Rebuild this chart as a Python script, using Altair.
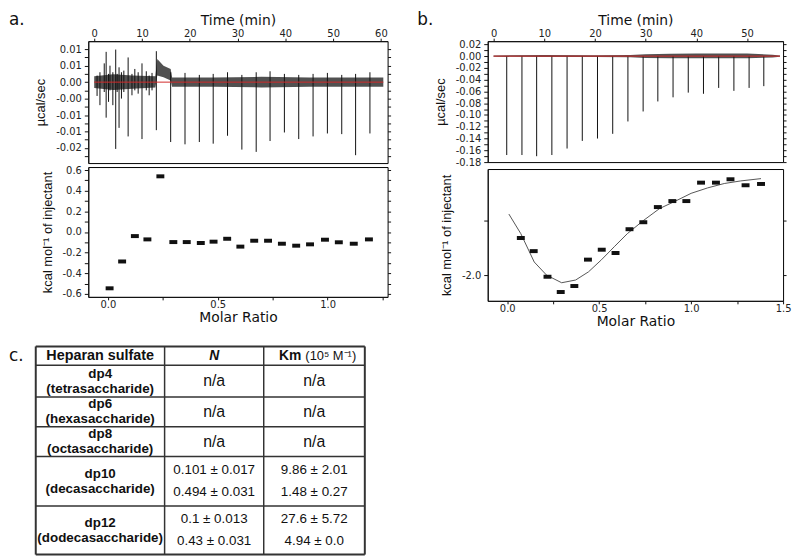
import altair as alt
import pandas as pd

# ===================== DATA =====================
# ---- (a) raw thermogram (µcal/sec vs min) ----
a_inj_time = [2.5, 4.5, 7.1, 10.0, 13.0, 16.0, 19.0, 22.0, 24.9, 27.9, 30.9, 33.9, 36.8, 39.8, 42.8, 45.8, 48.8, 51.8, 54.7, 57.7]
a_inj_low = [-0.0108, -0.0203, -0.0165, -0.0173, -0.0146, -0.0182, -0.0189, -0.0182, -0.0187, -0.0163,
             -0.0205, -0.0212, -0.0179, -0.0153, -0.0173, -0.0165, -0.0156, -0.0158, -0.0222, -0.0156]
a_inj_high = [0.0092, 0.0099, 0.0075, 0.0057, 0.0094, 0.0030, 0.0028, 0.0022, 0.0025, 0.0030,
              0.0022, 0.0030, 0.0033, 0.0025, 0.0022, 0.0025, 0.0028, 0.0022, 0.0025, 0.0030]
a_spike_time = [0.6, 1.2, 2.1, 3.0, 3.3, 3.9, 4.8, 5.2, 5.7, 6.2, 7.9, 8.5, 9.2, 10.9, 11.5, 12.1]
a_spike_low = [-0.0042, -0.0070, -0.0030, -0.0060, -0.0025, -0.0070, -0.0030, -0.0139, -0.0050, -0.0030,
               -0.0040, -0.0025, -0.0035, -0.0025, -0.0040, -0.0025]
a_spike_high = [0.0020, 0.0030, 0.0057, 0.0025, 0.0050, 0.0030, 0.0025, 0.0045, 0.0030, 0.0035,
                0.0025, 0.0040, 0.0030, 0.0033, 0.0020, 0.0028]
a_band_time = [0.0, 4.0, 8.0, 12.8, 13.2, 14.5, 16.0, 16.3, 25.0, 35.0, 45.0, 55.0, 60.5]
a_band_low = [-0.0018, -0.0024, -0.0020, -0.0016, 0.0020, 0.0015, 0.0005, -0.0014, -0.0014, -0.0016, -0.0014, -0.0014, -0.0014]
a_band_high = [0.0018, 0.0024, 0.0020, 0.0018, 0.0070, 0.0050, 0.0040, 0.0014, 0.0014, 0.0016, 0.0014, 0.0014, 0.0014]
a_baseline = [0.0, 60.5]

# ---- (a) integrated heats ----
a_ratio = [0.008, 0.065, 0.123, 0.180, 0.239, 0.298, 0.359, 0.423, 0.481, 0.543,
           0.603, 0.666, 0.729, 0.792, 0.857, 0.920, 0.988, 1.051, 1.119, 1.188]
a_heat = [-0.546, -0.286, -0.040, -0.072, 0.539, -0.098, -0.098, -0.107, -0.094, -0.066,
          -0.142, -0.085, -0.085, -0.114, -0.133, -0.120, -0.075, -0.100, -0.114, -0.072]

# ---- (b) raw thermogram ----
b_inj_time = [2.6, 5.6, 8.5, 11.5, 14.5, 17.5, 20.5, 23.5, 26.5, 29.5, 32.4, 35.4, 38.4, 41.4, 44.4, 47.4, 50.4, 53.3]
b_inj_low = [-0.168, -0.168, -0.170, -0.168, -0.157, -0.144, -0.140, -0.132, -0.111,
             -0.094, -0.077, -0.070, -0.062, -0.064, -0.054, -0.059, -0.054, -0.051]
b_band_time = [0.0, 10.0, 20.0, 27.0, 30.0, 35.0, 40.0, 45.0, 50.0, 55.0, 56.5]
b_band_low = [-0.0012, -0.0015, -0.0015, -0.0020, -0.0030, -0.0035, -0.0035, -0.0035, -0.0035, -0.0025, -0.0012]
b_band_high = [0.0012, 0.0020, 0.0015, 0.0020, 0.0030, 0.0040, 0.0045, 0.0045, 0.0045, 0.0025, 0.0012]
b_baseline = [0.0, 56.5]

# ---- (b) integrated heats + fit ----
b_ratio = [0.074, 0.144, 0.219, 0.291, 0.365, 0.439, 0.514, 0.589, 0.665,
           0.740, 0.819, 0.898, 0.974, 1.054, 1.135, 1.214, 1.296, 1.380]
b_heat = [-1.660, -1.780, -2.015, -2.155, -2.100, -1.858, -1.767, -1.797, -1.579,
          -1.515, -1.376, -1.321, -1.321, -1.152, -1.152, -1.121, -1.176, -1.164]
b_fit_ratio = [0.009, 0.074, 0.147, 0.214, 0.296, 0.372, 0.442, 0.512, 0.582,
               0.653, 0.740, 0.828, 0.916, 1.000, 1.090, 1.180, 1.270, 1.380]
b_fit_heat = [-1.44, -1.62, -1.88, -2.00, -2.07, -2.045, -1.97, -1.86, -1.74,
              -1.62, -1.50, -1.39, -1.32, -1.25, -1.20, -1.16, -1.136, -1.115]

# ---- axis ticks / labels ----
a_time_ticks = [0, 5, 10, 15, 20, 25, 30, 35, 40, 45, 50, 55, 60]
a_time_labels = ["0", "", "10", "", "20", "", "30", "", "40", "", "50", "", "60"]
b_time_ticks = [0, 5, 10, 15, 20, 25, 30, 35, 40, 45, 50, 55]
b_time_labels = ["0", "", "10", "", "20", "", "30", "", "40", "", "50", ""]
a_raw_ticks = [-0.0225, -0.02, -0.0175, -0.015, -0.0125, -0.01, -0.0075, -0.005, -0.0025, 0.0, 0.0025, 0.005, 0.0075, 0.01]
a_raw_labels = ["", "-0.02", "", "-0.01", "", "-0.01", "", "-0.00", "", "0.00", "", "0.01", "", "0.01"]
b_raw_ticks = [0.02, 0.01, 0.0, -0.01, -0.02, -0.03, -0.04, -0.05, -0.06, -0.07, -0.08, -0.09,
               -0.10, -0.11, -0.12, -0.13, -0.14, -0.15, -0.16, -0.17, -0.18]
b_raw_labels = ["0.02", "", "0.00", "", "-0.02", "", "-0.04", "", "-0.06", "", "-0.08", "",
                "-0.10", "", "-0.12", "", "-0.14", "", "-0.16", "", "-0.18"]
a_heat_ticks = [-0.6, -0.5, -0.4, -0.3, -0.2, -0.1, 0.0, 0.1, 0.2, 0.3, 0.4, 0.5, 0.6]
a_heat_labels = ["-0.6", "", "-0.4", "", "-0.2", "", "0.0", "", "0.2", "", "0.4", "", "0.6"]
b_heat_ticks = [-2.0, -1.5]
b_heat_labels = ["-2.0", ""]
a_ratio_ticks = [0.0, 0.25, 0.5, 0.75, 1.0, 1.25]
a_ratio_labels = ["0.0", "", "0.5", "", "1.0", ""]
b_ratio_ticks = [0.0, 0.25, 0.5, 0.75, 1.0, 1.25, 1.5]
b_ratio_labels = ["0.0", "", "0.5", "", "1.0", "", "1.5"]

# ---- (c) table ----
table_header = ["Heparan sulfate", "N", "Km", "(10\u2075 M\u207b\u00b9)"]
row_names = ["dp4", "dp6", "dp8", "dp10", "dp12"]
row_subnames = ["(tetrasaccharide)", "(hexasaccharide)", "(octasaccharide)", "(decasaccharide)", "(dodecasaccharide)"]
n_values = [["n/a"], ["n/a"], ["n/a"], ["0.101 \u00b1 0.017", "0.494 \u00b1 0.031"], ["0.1 \u00b1 0.013", "0.43 \u00b1 0.031"]]
km_values = [["n/a"], ["n/a"], ["n/a"], ["9.86 \u00b1 2.01", "1.48 \u00b1 0.27"], ["27.6 \u00b1 5.72", "4.94 \u00b1 0.0"]]

# ===================== STYLE / LAYOUT =====================
FONT = "DejaVu Sans"
NARROW = "Liberation Sans Narrow, Liberation Sans, sans-serif"
TFONT = "Liberation Sans, Arial, sans-serif"
INK = "#111111"


def label_expr(vals, labels):
    expr = "''"
    for v, l in zip(reversed(vals), reversed(labels)):
        expr = f"abs(datum.value - ({v})) < 1e-7 ? '{l}' : ({expr})"
    return expr


def x_axis(orient, title, vals, labels):
    return alt.Axis(orient=orient, title=title, values=vals, labelExpr=label_expr(vals, labels),
                    titleFont=FONT, titleFontSize=14, titleFontWeight="normal", titleColor=INK,
                    titlePadding=1, labelPadding=0, tickSize=3, labelFlush=False, labelOverlap=False)


def y_axis(title, vals, labels):
    return alt.Axis(orient="left", title=title, values=vals, labelExpr=label_expr(vals, labels),
                    titleFont=NARROW, titleFontSize=13, titleFontWeight="normal", titleColor=INK,
                    titlePadding=8, labelPadding=3, tickSize=4, labelFlush=False, labelOverlap=False)


def mirror_axis(vals):
    return alt.Axis(orient="right", title=None, values=vals, labels=False, tickSize=3, domain=False)


def raw_panel(inj, band, base, tdom, vdom, tticks, tlabels, vticks, vlabels, w, h, letter, lx):
    xs = alt.Scale(domain=tdom, nice=False, zero=False)
    ys = alt.Scale(domain=vdom, nice=False, zero=False)
    band_l = alt.Chart(band).mark_area(color="#262626", opacity=0.8).encode(
        x=alt.X("t:Q", scale=xs, axis=x_axis("top", "Time (min)", tticks, tlabels)),
        y=alt.Y("lo:Q", scale=ys, axis=y_axis("\u00b5cal/sec", vticks, vlabels)),
        y2="hi:Q")
    spikes = alt.Chart(inj).mark_rule(color=INK, strokeWidth=1).encode(
        x="t:Q", y=alt.Y("lo:Q", axis=None), y2="hi:Q")
    base_l = alt.Chart(base).mark_rule(color="#d02828", strokeWidth=1).encode(
        x="t:Q", x2="t2:Q", y=alt.Y("v:Q", axis=None))
    mirror = alt.Chart(band).mark_point(opacity=0).encode(
        x="t:Q", y=alt.Y("lo:Q", axis=mirror_axis(vticks)))
    lab = alt.Chart(pd.DataFrame({"s": [letter]})).mark_text(
        align="left", baseline="top", font=FONT, fontSize=17, color=INK, x=lx, y=-29).encode(text="s:N")
    return alt.layer(band_l, spikes, base_l, mirror, lab).resolve_axis(y="independent").properties(width=w, height=h)


def heat_panel(pts, fit, rdom, hdom, rticks, rlabels, hticks, hlabels, w, h):
    xs = alt.Scale(domain=rdom, nice=False, zero=False)
    ys = alt.Scale(domain=hdom, nice=False, zero=False)
    ticks = alt.Chart(pts).mark_tick(orient="horizontal", size=8, thickness=4, color=INK, opacity=1).encode(
        x=alt.X("r:Q", scale=xs, axis=x_axis("bottom", "Molar Ratio", rticks, rlabels)),
        y=alt.Y("q:Q", scale=ys, axis=y_axis("kcal mol\u207b\u00b9 of injectant", hticks, hlabels)))
    mirror = alt.Chart(pts).mark_point(opacity=0).encode(
        x="r:Q", y=alt.Y("q:Q", axis=mirror_axis(hticks)))
    layers = [ticks, mirror]
    if fit is not None:
        layers.insert(0, alt.Chart(fit).mark_line(color="#555555", strokeWidth=1).encode(
            x="r:Q", y=alt.Y("q:Q", axis=None)))
    return alt.layer(*layers).resolve_axis(y="independent").properties(width=w, height=h)


# ---- panel a ----
a_inj_df = pd.DataFrame({"t": a_inj_time + a_spike_time, "lo": a_inj_low + a_spike_low,
                         "hi": a_inj_high + a_spike_high})
a_band_df = pd.DataFrame({"t": a_band_time, "lo": a_band_low, "hi": a_band_high})
a_base_df = pd.DataFrame({"t": [a_baseline[0]], "t2": [a_baseline[1]], "v": [0.0]})
a_pts_df = pd.DataFrame({"r": a_ratio, "q": a_heat})

a_top = raw_panel(a_inj_df, a_band_df, a_base_df, [-1.24, 61.4], [-0.0246, 0.01245],
                  a_time_ticks, a_time_labels, a_raw_ticks, a_raw_labels, 302, 123, "a.", -80)
a_bot = heat_panel(a_pts_df, None, [-0.089, 1.273], [-0.629, 0.629],
                   a_ratio_ticks, a_ratio_labels, a_heat_ticks, a_heat_labels, 302, 131)
panel_a = alt.vconcat(a_top, a_bot, spacing=0)

# ---- panel b ----
b_inj_df = pd.DataFrame({"t": b_inj_time, "lo": b_inj_low, "hi": [0.0] * len(b_inj_time)})
b_band_df = pd.DataFrame({"t": b_band_time, "lo": b_band_low, "hi": b_band_high})
b_base_df = pd.DataFrame({"t": [b_baseline[0]], "t2": [b_baseline[1]], "v": [0.0]})
b_pts_df = pd.DataFrame({"r": b_ratio, "q": b_heat})
b_fit_df = pd.DataFrame({"r": b_fit_ratio, "q": b_fit_heat})

b_top = raw_panel(b_inj_df, b_band_df, b_base_df, [-1.15, 57.1], [-0.18, 0.0254],
                  b_time_ticks, b_time_labels, b_raw_ticks, b_raw_labels, 298, 122, "b.", -71)
b_bot = heat_panel(b_pts_df, b_fit_df, [-0.106, 1.5], [-2.236, -1.027],
                   b_ratio_ticks, b_ratio_labels, b_heat_ticks, b_heat_labels, 298, 133)
panel_b = alt.vconcat(b_top, b_bot, spacing=0)

# ---- table (c) : coordinates relative to panel (a) plot origin ----
TW, TH = 280, 213
col_x = [-53, 77, 177, 279]
row_y = [2, 21, 53, 83, 113, 163, 212]
sx = alt.Scale(domain=[0, TW], nice=False, zero=False)
sy = alt.Scale(domain=[0, TH], nice=False, zero=False, reverse=True)

rules = []
for i, yv in enumerate(row_y):
    rules.append({"x": col_x[0], "x2": col_x[-1], "y": yv, "y2": yv,
                  "w": 2.0 if i in (0, len(row_y) - 1) else 1.5})
for j, xv in enumerate(col_x):
    rules.append({"x": xv, "x2": xv, "y": row_y[0], "y2": row_y[-1],
                  "w": 2.0 if j in (0, len(col_x) - 1) else 1.5})
rules_df = pd.DataFrame(rules)

cc = [(col_x[k] + col_x[k + 1]) / 2 for k in range(3)]
bold_cells, head_cells, norm_cells, na_cells = [], [], [], []
hy = (row_y[0] + row_y[1]) / 2 + 0.5
head_cells.append({"x": cc[0], "y": hy, "s": table_header[0]})
km_cells = [{"x": cc[2] - 13, "y": hy, "s": table_header[2]}]
unit_cells = [{"x": cc[2] - 9, "y": hy, "s": table_header[3]}]
for i in range(len(row_names)):
    cy = (row_y[i + 1] + row_y[i + 2]) / 2
    bold_cells.append({"x": cc[0], "y": cy - 7.5, "s": row_names[i]})
    bold_cells.append({"x": cc[0], "y": cy + 7.5, "s": row_subnames[i]})
    for col, vals in ((1, n_values[i]), (2, km_values[i])):
        if len(vals) == 1:
            na_cells.append({"x": cc[col], "y": cy, "s": vals[0]})
        else:
            norm_cells.append({"x": cc[col], "y": cy - 11, "s": vals[0]})
            norm_cells.append({"x": cc[col], "y": cy + 11, "s": vals[1]})


def tlayer(cells, **kw):
    return alt.Chart(pd.DataFrame(cells)).mark_text(baseline="middle", color=INK, **kw).encode(
        x=alt.X("x:Q", scale=sx, axis=None), y=alt.Y("y:Q", scale=sy, axis=None), text="s:N")


table = alt.layer(
    alt.Chart(rules_df).mark_rule(color="#333333").encode(
        x=alt.X("x:Q", scale=sx, axis=None), x2="x2:Q",
        y=alt.Y("y:Q", scale=sy, axis=None), y2="y2:Q",
        strokeWidth=alt.StrokeWidth("w:Q", scale=None, legend=None)),
    tlayer(head_cells, align="center", font=TFONT, fontSize=14.5, fontWeight="bold"),
    tlayer(bold_cells, align="center", font=TFONT, fontSize=13.5, fontWeight="bold"),
    tlayer([{"x": cc[1], "y": hy, "s": table_header[1]}], align="center", font=TFONT, fontSize=14,
           fontWeight="bold", fontStyle="italic"),
    tlayer(km_cells, align="right", font=TFONT, fontSize=14, fontWeight="bold"),
    tlayer(unit_cells, align="left", font=TFONT, fontSize=13),
    tlayer(norm_cells, align="center", font=TFONT, fontSize=13.5),
    tlayer(na_cells, align="center", font=TFONT, fontSize=16),
    alt.Chart(pd.DataFrame({"s": ["c."]})).mark_text(
        align="left", baseline="alphabetic", font=FONT, fontSize=17, color=INK, x=-80, y=17).encode(text="s:N"),
).properties(width=TW, height=TH, view=alt.ViewBackground(stroke="transparent"))

row1 = alt.hconcat(panel_a, panel_b, spacing=25)
chart = alt.vconcat(row1, table, spacing=14).properties(padding=0).configure_view(
    stroke="black", strokeWidth=1
).configure_axis(
    labelFont=FONT, labelFontSize=10, labelColor="#222222", tickColor=INK, domainColor=INK,
    grid=False
)

chart.save("out.html", embed_options={"renderer": "svg", "actions": False})
